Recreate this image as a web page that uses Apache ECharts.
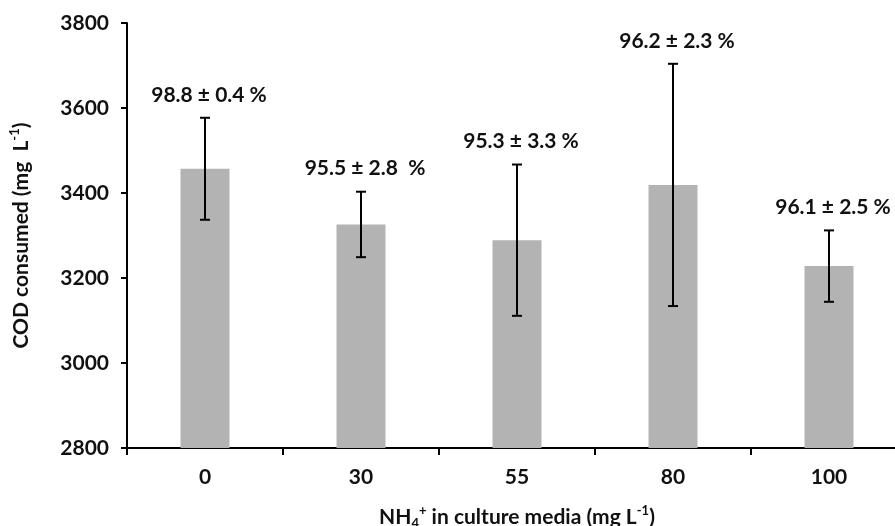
<!DOCTYPE html>
<html>
<head>
<meta charset="utf-8">
<script src="https://cdn.jsdelivr.net/npm/echarts@6/dist/echarts.min.js"></script>
<style>
  html, body { margin: 0; padding: 0; background: #fff; }
  #chart { width: 895px; height: 526px; }
</style>
</head>
<body>
<div id="chart"></div>
<script>
// NH4+ dose levels in the culture medium (mg L-1)
const categories = ['0', '30', '55', '80', '100'];
// Mean COD consumed (mg L-1) and its standard deviation
const codMean = [3457, 3326, 3289, 3419, 3228];
const codSd = [120, 77, 178, 285, 84];
// COD removal efficiency printed above each bar
const removalLabels = ['98.8 ± 0.4 %', '95.5 ± 2.8  %', '95.3 ± 3.3 %', '96.2 ± 2.3 %', '96.1 ± 2.5 %'];
// Value axis range
const yMin = 2800;
const yMax = 3800;
const yStep = 200;

const FONT = 'Lato, "Open Sans", sans-serif';
const FS = 21;
const INK = '#111';

const errorData = codMean.map((m, i) => [i, m, codSd[i]]);

const chart = echarts.init(document.getElementById('chart'), null, { renderer: 'canvas' });

const textBase = { color: INK, fontFamily: FONT, fontWeight: 'bold', fontSize: FS };

chart.setOption({
  animation: false,
  backgroundColor: '#fff',
  grid: {
    left: 127, right: -12, top: 23, bottom: 78,
    containLabel: false,
    outerBoundsMode: 'none'
  },
  xAxis: {
    type: 'category',
    data: categories,
    boundaryGap: true,
    axisLine: { lineStyle: { color: '#000', width: 2 } },
    axisTick: { show: true, length: 7, inside: false, lineStyle: { color: '#000', width: 2 } },
    axisLabel: Object.assign({ margin: 19 }, textBase),
    splitLine: { show: false },
    name: '{b|NH}{sub|4}{sup|+}{b| in culture media (mg L}{sup|-1}{b|)}',
    nameLocation: 'middle',
    nameGap: 56,
    nameTextStyle: Object.assign({}, textBase, {
      rich: {
        b: Object.assign({ lineHeight: 26 }, textBase),
        sup: { color: INK, fontFamily: FONT, fontWeight: 'bold', fontSize: 13, lineHeight: 13, verticalAlign: 'top' },
        sub: { color: INK, fontFamily: FONT, fontWeight: 'bold', fontSize: 13, lineHeight: 13, verticalAlign: 'bottom' }
      }
    })
  },
  yAxis: {
    type: 'value',
    min: yMin,
    max: yMax,
    interval: yStep,
    axisLine: { show: true, lineStyle: { color: '#000', width: 2 } },
    axisTick: { show: true, length: 6, inside: false, lineStyle: { color: '#000', width: 2 } },
    axisLabel: Object.assign({ margin: 18, formatter: v => String(v) }, textBase),
    splitLine: { show: false },
    name: '{b|COD consumed (mg  L}{sup|-1}{b|)}',
    nameLocation: 'middle',
    nameRotate: 90,
    nameGap: 93,
    nameTextStyle: Object.assign({}, textBase, {
      rich: {
        b: Object.assign({ lineHeight: 26 }, textBase),
        sup: { color: INK, fontFamily: FONT, fontWeight: 'bold', fontSize: 13, lineHeight: 13, verticalAlign: 'top' }
      }
    })
  },
  series: [
    {
      type: 'bar',
      data: codMean,
      barWidth: 49,
      itemStyle: { color: '#b3b3b3' },
      z: 2
    },
    {
      type: 'custom',
      data: errorData,
      encode: { x: 0, y: 1 },
      z: 3,
      renderItem: function (params, api) {
        const i = api.value(0);
        const mean = api.value(1);
        const sd = api.value(2);
        const hi = api.coord([i, mean + sd]);
        const lo = api.coord([i, mean - sd]);
        const x = hi[0];
        const cap = 5;
        const stroke = { stroke: '#000', lineWidth: 2 };
        return {
          type: 'group',
          children: [
            { type: 'line', shape: { x1: x, y1: hi[1], x2: x, y2: lo[1] }, style: stroke },
            { type: 'line', shape: { x1: x - cap, y1: hi[1], x2: x + cap, y2: hi[1] }, style: stroke },
            { type: 'line', shape: { x1: x - cap, y1: lo[1], x2: x + cap, y2: lo[1] }, style: stroke },
            {
              type: 'text',
              x: x + 4,
              y: hi[1] - 23,
              style: {
                text: removalLabels[i],
                align: 'center',
                verticalAlign: 'middle',
                fontFamily: FONT,
                fontWeight: 'bold',
                fontSize: FS,
                fill: INK
              }
            }
          ]
        };
      }
    }
  ]
});
</script>
</body>
</html>
